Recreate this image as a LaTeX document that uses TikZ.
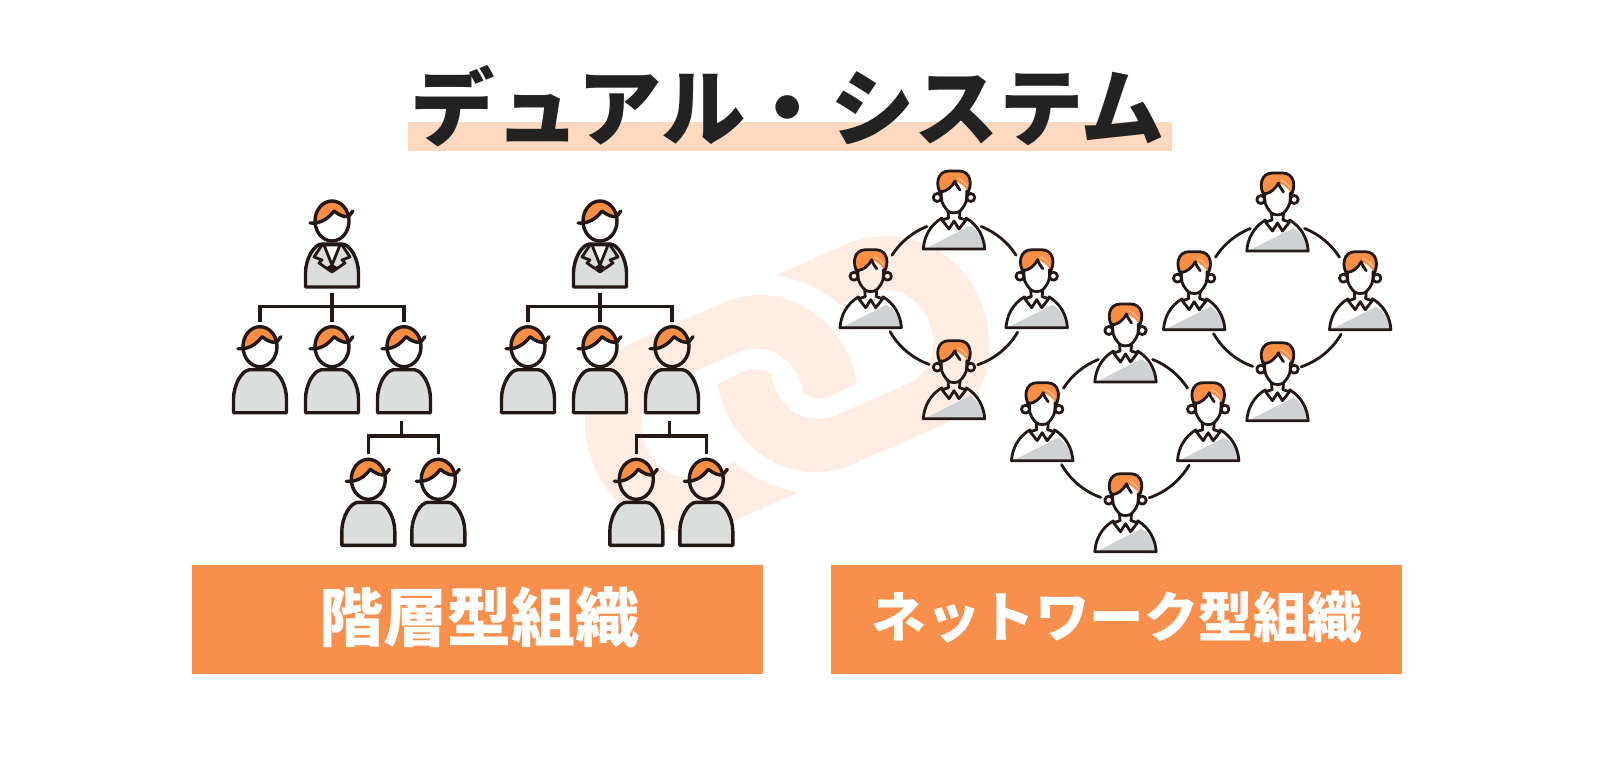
\documentclass[tikz,border=0pt]{standalone}
\usepackage{fontspec}
\newfontfamily\cjk{Noto Sans CJK JP}
\usetikzlibrary{calc}
\definecolor{ink}{HTML}{231815}
\definecolor{hair}{HTML}{F98F45}
\definecolor{hairlite}{HTML}{FCC7A3}
\definecolor{suit}{HTML}{DCDDDD}
\definecolor{shade}{HTML}{CFD1D2}
\definecolor{pale}{HTML}{FFEDE3}
\definecolor{band}{HTML}{F98F4D}
\definecolor{hilite}{HTML}{FED8BF}
\definecolor{titleink}{HTML}{222222}
\tikzset{
  x=1pt,y=-1pt,
  stroke/.style={draw=ink,line width=3.4pt,line cap=round,line join=round},
  thin stroke/.style={draw=ink,line width=2.8pt,line cap=round,line join=round},
  tree/.style={draw=ink,line width=3.4pt,line cap=butt,line join=miter},
  ring/.style={draw=ink,line width=2.8pt,line cap=round},
  pbox/.style={inner sep=0pt,outer sep=0pt,minimum width=54pt,minimum height=97pt},
  qbox/.style={inner sep=0pt,outer sep=0pt,minimum width=62pt,minimum height=80pt},
  lab/.style={font=\cjk\bfseries,text=white,inner sep=0pt},
  basehead/.pic={
    \path[fill=hair] (-15.5,2) .. controls (-18,-10) and (-10,-20) .. (0,-20)
      .. controls (8,-20) and (14,-14) .. (16,-6) .. controls (12,-5) and (8,-6) .. (2,-10)
      .. controls (-2,-6) and (-6,0) .. (-15.5,2) -- cycle;
    \draw[stroke] (0,0) ellipse[x radius=17,y radius=20];
    \draw[stroke] (-22,2) .. controls (-12,3) and (-4,-2) .. (2,-10)
      .. controls (7,-6) and (13,-3) .. (17,-5) -- (21,-10);
  },
  manbody/.pic={
    \draw[stroke,fill=suit] (-26.5,66) -- (-26.5,52) .. controls (-26.5,38) and (-18,23) .. (-10,23)
      -- (10,23) .. controls (18,23) and (26.5,38) .. (26.5,52) -- (26.5,66) -- cycle;
  },
  boss/.pic={
    \pic {basehead};
    \pic {manbody};
    \draw[thin stroke,fill=white] (-8,24) -- (8,24) -- (0,44) -- cycle;
    \draw[thin stroke] (-10,24) -- (-18,36) -- (-10,39) -- (-13,42) -- (0,51) -- (13,42) -- (10,39) -- (18,36) -- (10,24);
    \fill[ink] (-6,46.5) -- (0,43) -- (6,46.5) -- (0,51) -- cycle;
  },
  staff/.pic={
    \pic {basehead};
    \pic {manbody};
  },
  peer/.pic={
    \path[fill=shade] (-28.5,55.5) -- (16,33) .. controls (24,38) and (29,46) .. (30.5,55.5) -- cycle;
    \path[fill=hair] (-14,-1) .. controls (-19,-9) and (-17,-21.5) .. (-5,-21.5) -- (5,-21.5)
      .. controls (17,-21.5) and (19,-9) .. (14,-1) .. controls (11,-7) and (6,-10) .. (1,-12)
      .. controls (-2,-6) and (-7,-2) .. (-14,-1) -- cycle;
    \draw[hairlite,line width=1pt] (3,-15) .. controls (7,-14) and (10,-11) .. (13,-7);
    \draw[thin stroke] (-12.7,-2) -- (-12.7,5) .. controls (-12.7,10) and (-9,15) .. (-6,18)
      .. controls (-3,20.5) and (3,20.5) .. (6,18) .. controls (9,15) and (12.7,10) .. (12.7,5) -- (12.7,-2);
    \draw[thin stroke] (-13,1) .. controls (-19,-8) and (-17,-22) .. (-5,-22) -- (5,-22)
      .. controls (17,-22) and (19,-8) .. (13,1);
    \draw[thin stroke] (-13,-1) .. controls (-7,-2) and (-2,-6) .. (1,-12)
      .. controls (2,-8) and (4,-6) .. (6,-3);
    \draw[thin stroke] (-16.7,4.5) circle[radius=4];
    \draw[thin stroke] (16.7,4.5) circle[radius=4];
    \draw[thin stroke] (-6,18) -- (-5.5,25) (6,18) -- (5.5,25);
    \draw[thin stroke] (-5.5,25) -- (-12,27) -- (-5,36) -- (0,28) -- (5,36) -- (12,27) -- (5.5,25);
    \draw[thin stroke] (-12,25) .. controls (-24,32) and (-30,44) .. (-30.7,56) -- (30.7,56)
      .. controls (30,44) and (24,32) .. (12,25);
  }
}
\newcommand{\bossat}[3]{\node[pbox] (#1) at (#2,#3+23.5) {}; \pic at (#2,#3) {boss};}
\newcommand{\staffat}[3]{\node[pbox] (#1) at (#2,#3+23.5) {}; \pic at (#2,#3) {staff};}
\newcommand{\peerat}[3]{\node[qbox] (#1) at (#2,#3+17) {}; \pic at (#2,#3) {peer};}
\newcommand{\linkpiece}{
  (70,-0.3) .. controls (60,-55) and (15,-88.6) .. (-28,-88.6)
  .. controls (-38,-88.6) and (-47,-87) .. (-57,-84) -- (-150,-43.5)
  .. controls (-187,-27) and (-202.3,5) .. (-202.3,36)
  .. controls (-202.3,100) and (-155,147.7) .. (-100,147.7)
  .. controls (-88,147.7) and (-74,146) .. (-60,140) -- (11,108.7)
  .. controls (-12,104) and (-35,95) .. (-54,78)
  .. controls (-64,87) and (-80,93.7) .. (-99.3,93.7)
  .. controls (-125,93.7) and (-146,68) .. (-146,41)
  .. controls (-146,22) and (-136,7) .. (-122.3,0.7) -- (-49.3,-31.3)
  .. controls (-42,-34.5) and (-36,-35) .. (-29,-35)
  .. controls (-6,-35) and (12,-15) .. (15.7,8.7)
  .. controls (20,12) and (26,14.7) .. (32,14.7)
  .. controls (38,14.7) and (42,13) .. (47,10.5) -- cycle
}
\newcommand{\ringlinks}[1]{
  \draw[ring] ($(#1)+(-111.6:73.7)$) arc[start angle=-111.6,end angle=-147.3,radius=73.7];
  \draw[ring] ($(#1)+(-68.4:73.7)$) arc[start angle=-68.4,end angle=-32.7,radius=73.7];
  \draw[ring] ($(#1)+(150.2:73.7)$) arc[start angle=150.2,end angle=109.7,radius=73.7];
  \draw[ring] ($(#1)+(30.3:73.7)$) arc[start angle=30.3,end angle=71.3,radius=73.7];
}
\begin{document}
\begin{tikzpicture}
\useasboundingbox (0,0) rectangle (1600,783);
\fill[white] (0,0) rectangle (1600,783);
% background link icon
\begin{scope}[shift={(787.3,383.7)}]
  \fill[pale] \linkpiece;
  \begin{scope}[rotate=180]
    \fill[pale] \linkpiece;
  \end{scope}
\end{scope}
% title
\fill[hilite] (407.7,122.3) rectangle (1172,151);
\node[font=\cjk\bfseries\fontsize{84.4}{84.4}\selectfont,text=titleink,inner sep=0pt] (title) at (788,106) {デュアル・システム};
% hierarchy 1
\bossat{aa}{332}{221}
\staffat{ab}{260}{346.7}
\staffat{ac}{332}{346.7}
\staffat{ad}{404}{346.7}
\staffat{ae}{368.3}{479.3}
\staffat{af}{438.3}{479.3}
\coordinate (abus) at (332,306.7);
\draw[tree] (aa.south) -- (ac.north);
\draw[tree] (ab.north) |- (abus) -| (ad.north);
\coordinate (astem) at (401.7,421);
\coordinate (alow) at (401.7,436);
\draw[tree] (astem) -- (alow);
\draw[tree] (ae.north) |- (alow) -| (af.north);
% hierarchy 2
\bossat{ba}{600}{221}
\staffat{bb}{528}{346.7}
\staffat{bc}{600}{346.7}
\staffat{bd}{672}{346.7}
\staffat{be}{636.3}{479.3}
\staffat{bf}{706.3}{479.3}
\coordinate (bbus) at (600,306.7);
\draw[tree] (ba.south) -- (bc.north);
\draw[tree] (bb.north) |- (bbus) -| (bd.north);
\coordinate (bstem) at (669.7,421);
\coordinate (blow) at (669.7,436);
\draw[tree] (bstem) -- (blow);
\draw[tree] (be.north) |- (blow) -| (bf.north);
% rings
\coordinate (r1) at (954,295);
\ringlinks{r1}
\peerat{ca}{954}{193}
\peerat{cb}{870.7}{271.7}
\peerat{cc}{1036.7}{271.7}
\peerat{cd}{954}{362.7}
\coordinate (r2) at (1277.5,297);
\ringlinks{r2}
\peerat{da}{1277.5}{195}
\peerat{db}{1194.2}{273.7}
\peerat{dc}{1360.2}{273.7}
\peerat{dd}{1277.5}{364.7}
\coordinate (r3) at (1125.5,428);
\ringlinks{r3}
\peerat{ea}{1125.5}{326}
\peerat{eb}{1042.2}{404.7}
\peerat{ec}{1208.2}{404.7}
\peerat{ed}{1125.5}{495.7}
% bands
\fill[band] (192,564.5) rectangle (763,674);
\fill[band] (830.6,564.5) rectangle (1401.5,674);
\node[lab,font=\cjk\bfseries\fontsize{64}{64}\selectfont] (bl) at (479.5,617) {階層型組織};
\node[lab,font=\cjk\bfseries\fontsize{54.5}{54.5}\selectfont] (br) at (1117,617) {ネットワーク型組織};
\end{tikzpicture}
\end{document}
